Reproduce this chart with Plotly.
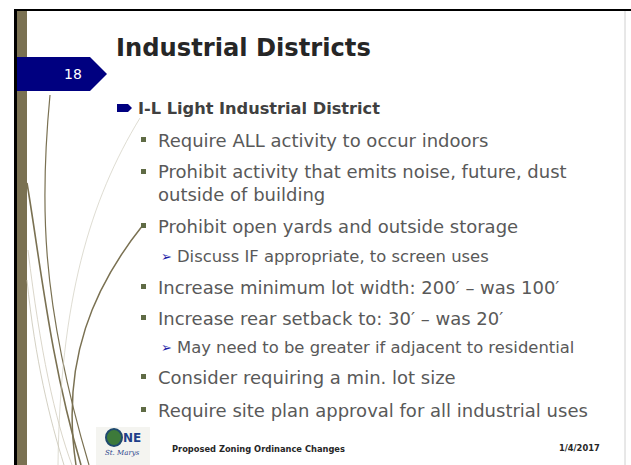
import plotly.graph_objects as go

W, H = 631, 465

slide_number = "18"
title_text = "Industrial Districts"
heading_text = "I-L Light Industrial District"
bullet_texts = [
    "Require ALL activity to occur indoors",
    "Prohibit activity that emits noise, future, dust<br>outside of building",
    "Prohibit open yards and outside storage",
    "Discuss IF appropriate, to screen uses",
    "Increase minimum lot width: 200′ – was 100′",
    "Increase rear setback to: 30′ – was 20′",
    "May need to be greater if adjacent to residential",
    "Consider requiring a min. lot size",
    "Require site plan approval for all industrial uses",
]
bullet_levels = [1, 1, 1, 2, 1, 1, 2, 1, 1]
footer_text = "Proposed Zoning Ordinance Changes"
date_text = "1/4/2017"

# layout (pixel positions of each line centre)
bullet_y = [140, 183, 226, 256, 287, 318, 347, 377, 410]

FONT = "DejaVu Sans"
OLIVE = "#7a7152"
NAVY = "#000080"
GREEN_SQ = "#5f6b45"
TEXT_GRAY = "#595959"

fig = go.Figure()
fig.add_trace(go.Scatter(x=[0], y=[0], mode="markers", marker=dict(opacity=0), hoverinfo="skip", showlegend=False))

shapes = []
# top and left black borders, olive bar, right gray edge
shapes.append(dict(type="rect", x0=14, x1=W, y0=9, y1=11, fillcolor="black", line=dict(width=0), layer="above"))
shapes.append(dict(type="rect", x0=14, x1=17, y0=9, y1=H, fillcolor="black", line=dict(width=0)))
shapes.append(dict(type="rect", x0=17, x1=27, y0=11, y1=H, fillcolor=OLIVE, line=dict(width=0)))
shapes.append(dict(type="line", x0=625, x1=625, y0=11, y1=H, line=dict(color="#d0d0d0", width=1)))

# decorative curves
curves = [
    ("M50,95 C40,200 40,300 89,465", 1.2, OLIVE),
    ("M27,183 C40,260 50,360 81,465", 1.6, OLIVE),
    ("M143,225 C95,285 60,360 76,465", 1.5, OLIVE),
    ("M140,118 C90,200 60,300 58,465", 0.6, "#c8c4b4"),
    ("M27,280 C35,360 50,420 64,465", 0.8, "#c8c4b4"),
    ("M28,250 C40,350 55,420 72,465", 0.8, "#d0ccbc"),
]
for p, w, c in curves:
    shapes.append(dict(type="path", path=p, line=dict(color=c, width=w)))

# slide number banner
shapes.append(dict(type="path", path="M17,57 L90,57 L107,74 L90,91 L17,91 Z", fillcolor=NAVY, line=dict(width=0)))
# heading arrow bullet
shapes.append(dict(type="path", path="M117,104 L128,104 L132,108 L128,112 L117,112 Z", fillcolor=NAVY, line=dict(width=0)))

annotations = []
annotations.append(dict(x=73, y=74, text=slide_number, font=dict(family=FONT, size=14, color="white")))
annotations.append(dict(x=114, y=48, text="<b>" + title_text + "</b>", xanchor="left", font=dict(family=FONT, size=24.2, color="#262626")))
annotations.append(dict(x=136, y=108, text="<b>" + heading_text + "</b>", xanchor="left", font=dict(family=FONT, size=16.2, color="#404040")))

for txt, lvl, y in zip(bullet_texts, bullet_levels, bullet_y):
    if lvl == 1:
        if "<br>" in txt:
            yc = y - 11
        else:
            yc = y
        shapes.append(dict(type="rect", x0=141, x1=146, y0=yc - 3, y1=yc + 2, fillcolor=GREEN_SQ, line=dict(width=0)))
        annotations.append(dict(x=156, y=y, text=txt, xanchor="left", align="left",
                                font=dict(family=FONT, size=18, color=TEXT_GRAY)))
    else:
        annotations.append(dict(x=159, y=y, text="➢", xanchor="left",
                                font=dict(family=FONT, size=13, color="#1a1aa6")))
        annotations.append(dict(x=175, y=y, text=txt, xanchor="left",
                                font=dict(family=FONT, size=16.4, color=TEXT_GRAY)))

# footer
annotations.append(dict(x=170, y=449, text="<b>" + footer_text + "</b>", xanchor="left", font=dict(family=FONT, size=8.3, color="#262626")))
annotations.append(dict(x=602, y=448, text="<b>" + date_text + "</b>", xanchor="right", font=dict(family=FONT, size=8.3, color="#262626")))

# logo
shapes.append(dict(type="rect", x0=96, x1=150, y0=427, y1=465, fillcolor="#f4f4f0", line=dict(width=0)))
shapes.append(dict(type="circle", x0=106, x1=122, y0=429, y1=446, fillcolor="#3d7a3a", line=dict(color="#1f4a6e", width=2)))
annotations.append(dict(x=121, y=438, text="<b>NE</b>", xanchor="left", font=dict(family=FONT, size=12, color="#1f3f8a")))
annotations.append(dict(x=122, y=453, text="<i>St. Marys</i>", font=dict(family="DejaVu Serif", size=7, color="#1f3f8a")))

for a in annotations:
    a.setdefault("xanchor", "center")
    a["yanchor"] = "middle"
    a["showarrow"] = False
    a["xref"] = "x"
    a["yref"] = "y"

fig.update_layout(
    width=W, height=H,
    margin=dict(l=0, r=0, t=0, b=0),
    paper_bgcolor="white", plot_bgcolor="white",
    xaxis=dict(range=[0, W], visible=False, fixedrange=True),
    yaxis=dict(range=[H, 0], visible=False, fixedrange=True),
    shapes=shapes, annotations=annotations,
    showlegend=False,
)
fig.write_html("out.html", config={"displayModeBar": False})

# remove the default page margin so the figure starts at the window's corner
with open("out.html", "r", encoding="utf-8") as f:
    html = f.read()
html = html.replace("<head>", "<head><style>html,body{margin:0;padding:0;overflow:hidden;}</style>", 1)
with open("out.html", "w", encoding="utf-8") as f:
    f.write(html)
